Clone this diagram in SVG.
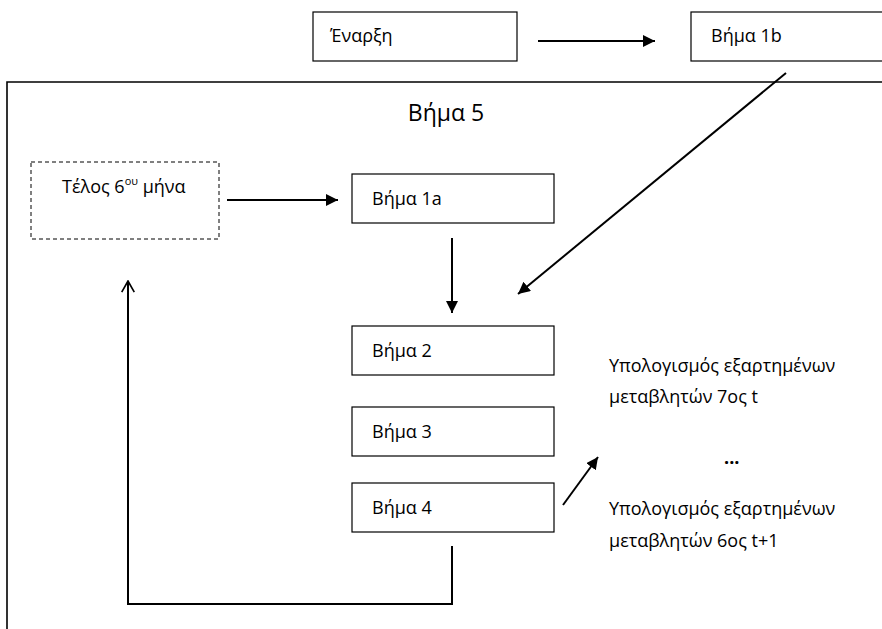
<svg xmlns="http://www.w3.org/2000/svg" width="882" height="629" viewBox="0 0 882 629">
<style>
.box{fill:#fff;stroke:#000;stroke-width:1.2}
.dash{fill:#fff;stroke:#000;stroke-width:1;stroke-dasharray:4 3}
.t{font-family:"Open Sans","Liberation Sans",sans-serif;font-size:18px;fill:#000}
.c{fill:none;stroke:#000;stroke-width:2}
</style>
<defs>
<marker id="ah" viewBox="0 0 10 10" refX="10" refY="5" markerWidth="6" markerHeight="6" orient="auto" markerUnits="strokeWidth">
<path d="M0,0 L10,5 L0,10 z" fill="#000"/>
</marker>
<marker id="open" viewBox="0 0 10 10" refX="9" refY="5" markerWidth="7" markerHeight="7" orient="auto" markerUnits="strokeWidth">
<path d="M1,0.5 L9,5 L1,9.5" fill="none" stroke="#000" stroke-width="1.2"/>
</marker>
</defs>
<rect width="882" height="629" fill="#fff"/>
<g id="step5">
<path d="M7,629 L7,82 L882,82" fill="none" stroke="#000" stroke-width="1.6"/>
<text class="t" x="446" y="121" text-anchor="middle" style="font-size:23px">Βήμα 5</text>
</g>
<g id="start">
<rect class="box" x="313" y="12" width="204" height="49"/>
<text class="t" x="330" y="42">Έναρξη</text>
</g>
<g id="step1b">
<rect class="box" x="691" y="12" width="200" height="49"/>
<text class="t" x="711" y="42">Βήμα 1b</text>
</g>
<g id="end6">
<rect class="dash" x="31" y="162" width="188" height="77"/>
<text class="t" x="62" y="193">Τέλος 6<tspan dy="-8" style="font-size:11px">ου</tspan><tspan dy="8"> μήνα</tspan></text>
</g>
<g id="step1a">
<rect class="box" x="352" y="174" width="202" height="49"/>
<text class="t" x="372" y="205">Βήμα 1a</text>
</g>
<g id="step2">
<rect class="box" x="352" y="326" width="202" height="49"/>
<text class="t" x="372" y="357">Βήμα 2</text>
</g>
<g id="step3">
<rect class="box" x="352" y="407" width="202" height="49"/>
<text class="t" x="372" y="438">Βήμα 3</text>
</g>
<g id="step4">
<rect class="box" x="352" y="483" width="202" height="49"/>
<text class="t" x="372" y="514">Βήμα 4</text>
</g>
<g id="calc7">
<text class="t" x="609" y="372">Υπολογισμός εξαρτημένων</text>
<text class="t" x="609" y="403">μεταβλητών 7ος t</text>
</g>
<g id="dots">
<text class="t" x="724" y="464" style="font-weight:bold">...</text>
</g>
<g id="calc6">
<text class="t" x="609" y="515">Υπολογισμός εξαρτημένων</text>
<text class="t" x="609" y="547">μεταβλητών 6ος t+1</text>
</g>
<g id="connectors">
<line class="c" x1="538" y1="41" x2="655" y2="41" marker-end="url(#ah)"/>
<line class="c" x1="786" y1="73" x2="518" y2="294" marker-end="url(#ah)"/>
<line class="c" x1="227" y1="200" x2="338" y2="200" marker-end="url(#ah)"/>
<line class="c" x1="452" y1="238" x2="452" y2="313" marker-end="url(#ah)"/>
<line class="c" x1="563" y1="505" x2="598" y2="457" marker-end="url(#ah)"/>
<path class="c" d="M452,546 L452,604 L128,604 L128,281" marker-end="url(#open)"/>
</g>
</svg>
